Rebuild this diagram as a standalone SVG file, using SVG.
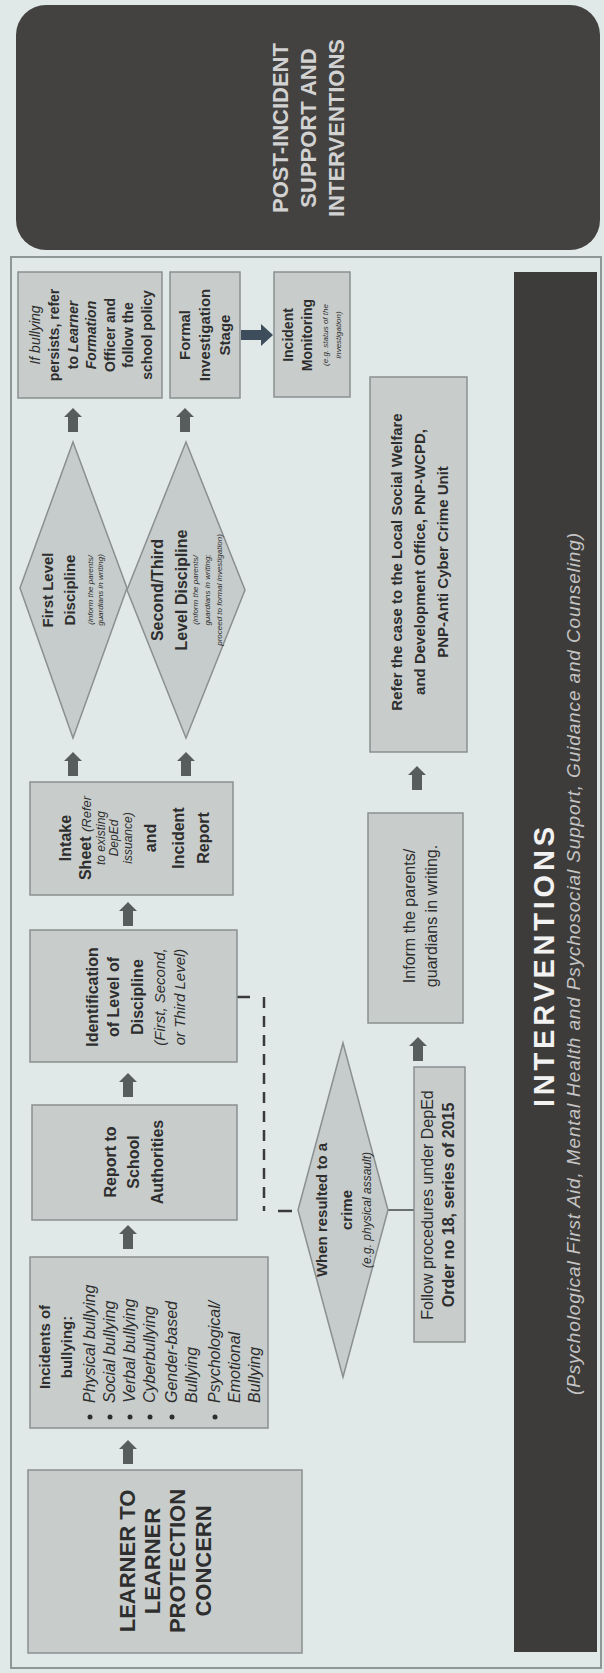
<svg xmlns="http://www.w3.org/2000/svg" width="604" height="1673" viewBox="0 0 604 1673">
<style>
.bg{fill:#e0e9e8}
.box{fill:#c8cdcc;stroke:#8a8f8f;stroke-width:1.5}
.dia{fill:#c6cccb;stroke:#8a8f8f;stroke-width:1.5}
.dark{fill:#3e3c3a}
.t{font-family:"Liberation Sans",Arial,sans-serif;fill:#2e2e2e;text-anchor:middle}
.b{font-weight:bold}
.i{font-style:italic}
.arr{fill:#575c5c}
.conn{stroke:#3a3a3a;stroke-width:2.5;fill:none}
</style>
<defs>
<path id="up" d="M0,0 L9,9 L5,9 L5,24 L-5,24 L-5,9 L-9,9 Z"/>
</defs>
<rect class="bg" x="0" y="0" width="604" height="1673"/>

<g id="post-incident">
<rect x="16" y="5" width="584" height="245" rx="30" fill="#444241"/>
<g transform="translate(308,128) rotate(-90)">
<text class="t b" style="fill:#d2d2d2" font-size="22"><tspan x="0" y="-20">POST-INCIDENT</tspan><tspan x="0" y="8">SUPPORT AND</tspan><tspan x="0" y="36">INTERVENTIONS</tspan></text>
</g>
</g>

<rect x="11" y="257" width="590" height="1411" fill="none" stroke="#8e9696" stroke-width="2"/>

<g id="interventions">
<rect class="dark" x="514" y="272" width="83" height="1380"/>
<g transform="translate(544,967) rotate(-90)">
<text class="t b" style="fill:#f2f2f2" font-size="29" y="10" textLength="280" lengthAdjust="spacing">INTERVENTIONS</text>
</g>
<g transform="translate(574,964) rotate(-90)">
<text class="t i" style="fill:#c4c4c4" font-size="19" y="6" textLength="862" lengthAdjust="spacing">(Psychological First Aid, Mental Health and Psychosocial Support, Guidance and Counseling)</text>
</g>
</g>

<g id="connectors">
<use href="#up" class="arr" x="128" y="1440"/>
<use href="#up" class="arr" x="128" y="1225"/>
<use href="#up" class="arr" x="128" y="1073"/>
<use href="#up" class="arr" x="128" y="902"/>
<use href="#up" class="arr" x="73" y="752"/>
<use href="#up" class="arr" x="186" y="752"/>
<use href="#up" class="arr" x="73" y="408"/>
<use href="#up" class="arr" x="185" y="408"/>
<use href="#up" class="arr" x="418" y="1037"/>
<use href="#up" class="arr" x="417" y="766"/>
<path d="M273,335 L261,324 L261,330 L241,330 L241,340 L261,340 L261,346 Z" fill="#3d4d5c"/>
<path class="conn" d="M237,997 L250,997"/>
<path class="conn" stroke-dasharray="11,8" d="M264,997 L264,1211"/>
<path class="conn" d="M278,1211 L292,1211"/>
<path d="M388,1210 L414,1210" stroke="#6a6f6f" stroke-width="2"/>
</g>

<g id="learner-concern">
<rect class="box" x="28" y="1470" width="274" height="183"/>
<g transform="translate(165,1561) rotate(-90)">
<text class="t b" font-size="22"><tspan x="0" y="-30">LEARNER TO</tspan><tspan x="0" y="-5">LEARNER</tspan><tspan x="0" y="20">PROTECTION</tspan><tspan x="0" y="46">CONCERN</tspan></text>
</g>
</g>

<g id="incidents">
<rect class="box" x="30" y="1257" width="238" height="171"/>
<g transform="translate(149,1342) rotate(-90)">
<text class="t b" font-size="15"><tspan x="-5" y="-99">Incidents of</tspan><tspan x="-5" y="-77">bullying:</tspan></text>
<text class="t i" font-size="16" style="text-anchor:start"><tspan x="-61" y="-54">Physical bullying</tspan><tspan x="-61" y="-34">Social bullying</tspan><tspan x="-61" y="-14">Verbal bullying</tspan><tspan x="-61" y="6">Cyberbullying</tspan><tspan x="-61" y="28">Gender-based</tspan><tspan x="-61" y="48">Bullying</tspan><tspan x="-61" y="71">Psychological/</tspan><tspan x="-61" y="91">Emotional</tspan><tspan x="-61" y="111">Bullying</tspan></text>
</g>
<g fill="#2e2e2e">
<circle cx="90" cy="1417" r="2.5"/><circle cx="110" cy="1417" r="2.5"/><circle cx="130" cy="1417" r="2.5"/><circle cx="150" cy="1417" r="2.5"/><circle cx="172" cy="1417" r="2.5"/><circle cx="215" cy="1417" r="2.5"/>
</g>
</g>

<g id="report">
<rect class="box" x="32" y="1105" width="205" height="115"/>
<g transform="translate(134,1162) rotate(-90)">
<text class="t b" font-size="16"><tspan x="0" y="-18">Report to</tspan><tspan x="0" y="5">School</tspan><tspan x="0" y="29">Authorities</tspan></text>
</g>
</g>

<g id="identification">
<rect class="box" x="30" y="930" width="207" height="132"/>
<g transform="translate(133,997) rotate(-90)">
<text class="t b" font-size="16"><tspan x="0" y="-35">Identification</tspan><tspan x="0" y="-14">of Level of</tspan><tspan x="0" y="10">Discipline</tspan></text>
<text class="t i" font-size="15"><tspan x="0" y="32">(First, Second,</tspan><tspan x="0" y="52">or Third Level)</tspan></text>
</g>
</g>

<g id="intake">
<rect class="box" x="30" y="782" width="203" height="113"/>
<g transform="translate(131,838) rotate(-90)">
<text class="t b" font-size="16"><tspan x="0" y="-60">Intake</tspan><tspan x="0" y="-40">Sheet <tspan class="i" font-weight="normal" font-size="13">(Refer</tspan></tspan></text>
<text class="t i" font-size="12"><tspan x="0" y="-26">to existing</tspan><tspan x="0" y="-13">DepEd</tspan><tspan x="0" y="1">issuance)</tspan></text>
<text class="t b" font-size="16"><tspan x="0" y="25">and</tspan><tspan x="0" y="53">Incident</tspan><tspan x="0" y="78">Report</tspan></text>
</g>
</g>

<g id="first-level">
<polygon class="dia" points="73,442 127,588 73,738 20,588"/>
<g transform="translate(73,590) rotate(-90)">
<text class="t b" font-size="15"><tspan x="0" y="-20">First Level</tspan><tspan x="0" y="2">Discipline</tspan></text>
<text class="t i" font-size="8"><tspan x="0" y="20">(inform the parents/</tspan><tspan x="0" y="30">guardians in writing)</tspan></text>
</g>
</g>

<g id="second-third-level">
<polygon class="dia" points="186,442 245,590 186,738 127,590"/>
<g transform="translate(186,590) rotate(-90)">
<text class="t b" font-size="16"><tspan x="0" y="-23">Second/Third</tspan><tspan x="0" y="1">Level Discipline</tspan></text>
<text class="t i" font-size="8"><tspan x="0" y="12">(inform the parents/</tspan><tspan x="0" y="24">guardians in writing;</tspan><tspan x="0" y="36">proceed to formal investigation)</tspan></text>
</g>
</g>

<g id="if-bullying-persists">
<rect class="box" x="18" y="272" width="144" height="126"/>
<g transform="translate(90,335) rotate(-90)">
<text class="t b" font-size="14"><tspan x="0" y="-50" class="i" font-weight="normal">If bullying</tspan><tspan x="0" y="-31">persists, refer</tspan><tspan x="0" y="-12">to <tspan class="i">Learner</tspan></tspan><tspan x="0" y="6" class="i">Formation</tspan><tspan x="0" y="25">Officer and</tspan><tspan x="0" y="43">follow the</tspan><tspan x="0" y="62">school policy</tspan></text>
</g>
</g>

<g id="formal-investigation">
<rect class="box" x="170" y="272" width="70" height="126"/>
<g transform="translate(205,335) rotate(-90)">
<text class="t b" font-size="15"><tspan x="0" y="-15">Formal</tspan><tspan x="0" y="5">Investigation</tspan><tspan x="0" y="25">Stage</tspan></text>
</g>
</g>

<g id="incident-monitoring">
<rect class="box" x="274" y="272" width="76" height="125"/>
<g transform="translate(312,335) rotate(-90)">
<text class="t b" font-size="14"><tspan x="0" y="-19">Incident</tspan><tspan x="0" y="0">Monitoring</tspan></text>
<text class="t i" font-size="8"><tspan x="0" y="16">(e.g. status of the</tspan><tspan x="0" y="29">investigation)</tspan></text>
</g>
</g>

<g id="crime-decision">
<polygon class="dia" points="343,1043 388,1210 343,1377 298,1210"/>
<g transform="translate(343,1210) rotate(-90)">
<text class="t b" font-size="15"><tspan x="0" y="-16">When resulted to a</tspan><tspan x="0" y="9">crime</tspan></text>
<text class="t i" font-size="12" x="0" y="28">(e.g. physical assault)</text>
</g>
</g>

<g id="follow-procedures">
<rect class="box" x="414" y="1067" width="51" height="275"/>
<g transform="translate(440,1205) rotate(-90)">
<text class="t" font-size="16"><tspan x="0" y="-7">Follow procedures under DepEd</tspan><tspan x="0" y="14" font-weight="bold">Order no 18, series of 2015</tspan></text>
</g>
</g>

<g id="inform-parents">
<rect class="box" x="368" y="813" width="95" height="210"/>
<g transform="translate(415,916) rotate(-90)">
<text class="t" font-size="16"><tspan x="0" y="0">Inform the parents/</tspan><tspan x="0" y="22">guardians in writing.</tspan></text>
</g>
</g>

<g id="refer-case">
<rect class="box" x="370" y="377" width="97" height="375"/>
<g transform="translate(418,562) rotate(-90)">
<text class="t b" font-size="15"><tspan x="0" y="-16">Refer the case to the Local Social Welfare</tspan><tspan x="0" y="7">and Development Office, PNP-WCPD,</tspan><tspan x="0" y="30">PNP-Anti Cyber Crime Unit</tspan></text>
</g>
</g>
</svg>
